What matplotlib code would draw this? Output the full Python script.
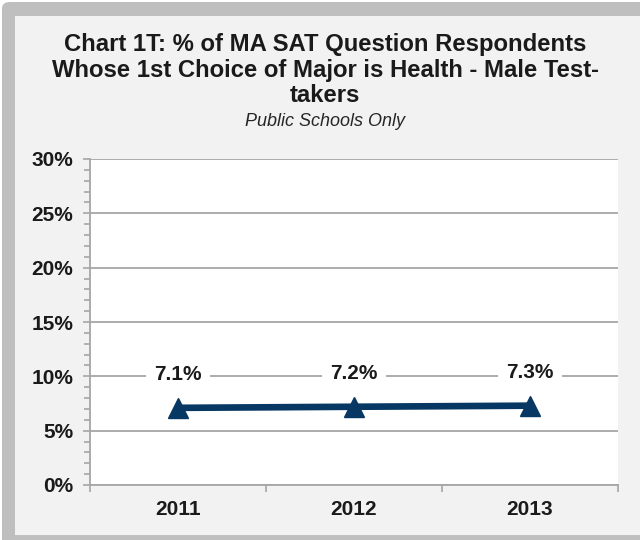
import matplotlib
matplotlib.use("Agg")
import matplotlib.pyplot as plt
from matplotlib.patches import FancyBboxPatch, Rectangle
from matplotlib.ticker import MultipleLocator, FixedLocator, NullFormatter

# data
years = ["2011", "2012", "2013"]
pct = [7.1, 7.2, 7.3]
y_ticks = [0, 5, 10, 15, 20, 25, 30]

title_lines = ["Chart 1T: % of MA SAT Question Respondents",
               "Whose 1st Choice of Major is Health - Male Test-",
               "takers"]
subtitle = "Public Schools Only"

plt.rcParams['font.family'] = ['Liberation Sans', 'DejaVu Sans']

fig = plt.figure(figsize=(6.4, 5.4), dpi=100)
fig.patch.set_facecolor("white")

# frame: gray rounded border, light gray panel
W, H = 640.0, 540.0
fig.patches.append(FancyBboxPatch((2 / W, -0.05), 1.2, 1.05 - 2 / H,
                                  boxstyle="round,pad=0,rounding_size=0.012",
                                  transform=fig.transFigure, facecolor="#bfbfbf",
                                  edgecolor="none", zorder=-3))
fig.patches.append(Rectangle((15 / W, 1 - 535 / H), 1.0, (535 - 16) / H,
                             transform=fig.transFigure, facecolor="#f2f2f2",
                             edgecolor="none", zorder=-2))

ax = fig.add_axes([90 / W, 1 - 485 / H, (618 - 90) / W, (485 - 159) / H])
ax.set_facecolor("white")

x = list(range(len(years)))
ax.plot(x, pct, color="#073763", lw=4.8, marker="^", markersize=14,
        solid_capstyle="butt", zorder=3)
for xi, v in zip(x, pct):
    ax.annotate(f"{v:.1f}%", (xi, v), xytext=(0, 24), textcoords="offset points",
                ha="center", va="center", fontsize=15, fontweight="bold",
                color="#1a1a1a", zorder=4,
                bbox=dict(boxstyle="square,pad=0.4", facecolor="white", edgecolor="none"))

ax.set_xlim(-0.5, len(years) - 0.5)
ax.set_ylim(0, 30)

ax.set_yticks(y_ticks)
ax.set_yticklabels([f"{t}%" for t in y_ticks], fontsize=15, fontweight="bold", color="#1a1a1a")
ax.yaxis.set_minor_locator(MultipleLocator(1))
ax.grid(axis="y", which="major", color="#a6a6a6", lw=1.3)
ax.set_axisbelow(True)

ax.xaxis.set_major_locator(FixedLocator([i - 0.5 for i in range(len(years) + 1)]))
ax.xaxis.set_major_formatter(NullFormatter())
ax.xaxis.set_minor_locator(FixedLocator(x))
ax.set_xticklabels(years, minor=True, fontsize=15, fontweight="bold", color="#1a1a1a")
ax.tick_params(axis="x", which="major", length=5, color="#a6a6a6", width=1.2)
ax.tick_params(axis="x", which="minor", length=0, pad=11)
ax.tick_params(axis="y", which="major", length=5, color="#a6a6a6", width=1.2, pad=7)
ax.tick_params(axis="y", which="minor", length=4.5, color="#a6a6a6", width=1.2)

for s in ["top", "right"]:
    ax.spines[s].set_visible(False)
for s in ["left", "bottom"]:
    ax.spines[s].set_color("#a6a6a6")
    ax.spines[s].set_linewidth(1.3)

for i, line in enumerate(title_lines):
    fig.text(0.508, 1 - (45 + 25 * i) / H, line, ha="center", va="center",
             fontsize=17.2, fontweight="bold", color="#1a1a1a")
fig.text(0.508, 1 - 121 / H, subtitle, ha="center", va="center", fontsize=13,
         style="italic", color="#262626")

fig.savefig("out.png", dpi=100)
